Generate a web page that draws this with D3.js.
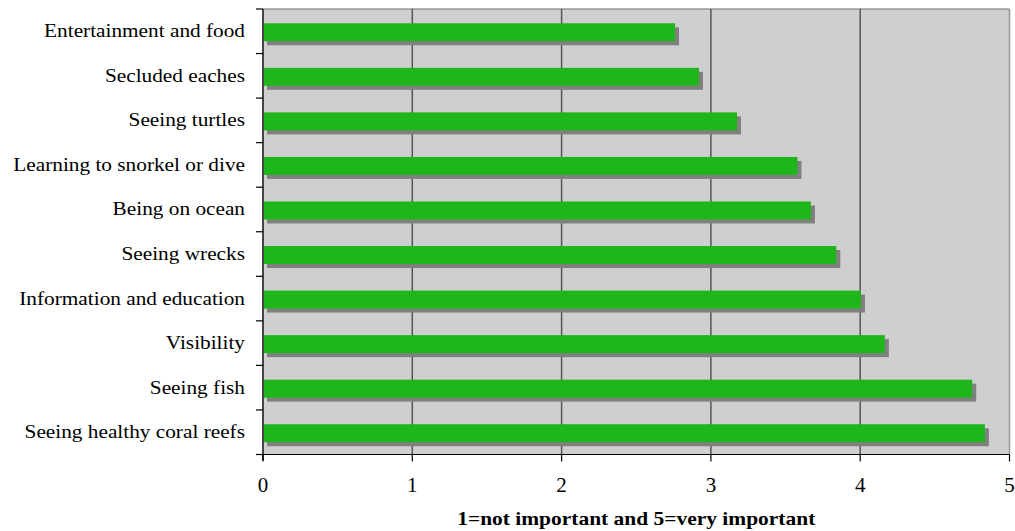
<!DOCTYPE html>
<html><head><meta charset="utf-8">
<script src="https://cdn.jsdelivr.net/npm/d3@7"></script>
<style>body{margin:0;background:#fff}svg{display:block}text{font-family:"Liberation Serif","Times New Roman",serif}</style>
</head><body><svg id="c" width="1015" height="531"></svg>
<script>
const categories = ["Entertainment and food","Secluded eaches","Seeing turtles","Learning to snorkel or dive","Being on ocean","Seeing wrecks","Information and education","Visibility","Seeing fish","Seeing healthy coral reefs"];
const values = [2.76,2.92,3.175,3.58,3.67,3.84,4.005,4.165,4.75,4.835];
const xTicks = [0,1,2,3,4,5];
const xTitle = "1=not important and 5=very important";

const svg = d3.select("#c");
const L=263,R=1009.5,T=9,B=454.5;
const x = d3.scaleLinear().domain([0,5]).range([L,R]);
const yb = d3.scaleBand().domain(categories).range([T,B]);

svg.append("rect").attr("x",L).attr("y",T).attr("width",R-L).attr("height",B-T).attr("fill","#cfcfcf");
svg.append("line").attr("x1",L).attr("x2",R).attr("y1",T).attr("y2",T).attr("stroke","#999").attr("stroke-width",1.5);
svg.append("line").attr("x1",R).attr("x2",R).attr("y1",T).attr("y2",B).attr("stroke","#999").attr("stroke-width",1.5);
svg.selectAll(".g").data(xTicks.slice(1,-1)).join("line")
  .attr("x1",d=>x(d)).attr("x2",d=>x(d)).attr("y1",T).attr("y2",B).attr("stroke","#555").attr("stroke-width",1.5);

const bh = 18;
const by = d=> yb(d)+yb.bandwidth()/2 - bh/2 + 1;
svg.selectAll(".s").data(categories).join("rect")
  .attr("x",x(0)+4).attr("y",d=>by(d)+4).attr("width",(d,i)=>x(values[i])-x(0)).attr("height",bh).attr("fill","#808080");
svg.selectAll(".b").data(categories).join("rect")
  .attr("x",x(0)).attr("y",d=>by(d)).attr("width",(d,i)=>x(values[i])-x(0)).attr("height",bh).attr("fill","#1eb61a");

svg.append("line").attr("x1",L).attr("x2",L).attr("y1",T).attr("y2",B+6).attr("stroke","#444").attr("stroke-width",2);
const bounds = categories.map(c=>yb(c)).concat([B]);
svg.selectAll(".yt").data(bounds).join("line")
  .attr("x1",256).attr("x2",L).attr("y1",d=>d).attr("y2",d=>d).attr("stroke","#000").attr("stroke-width",1.2);

function stretch(sel, k){
  sel.each(function(){ const w=this.getComputedTextLength(); d3.select(this).attr("textLength",w*k).attr("lengthAdjust","spacingAndGlyphs"); });
}
svg.selectAll(".yl").data(categories).join("text")
  .attr("x",245).attr("y",d=>yb(d)+yb.bandwidth()/2+6).attr("text-anchor","end")
  .attr("font-size",19).attr("fill","#000").text(d=>d).call(stretch,1.12);

svg.append("line").attr("x1",256).attr("x2",R).attr("y1",B).attr("y2",B).attr("stroke","#000").attr("stroke-width",1.2);
svg.selectAll(".xt").data(xTicks).join("line")
  .attr("x1",d=>x(d)).attr("x2",d=>x(d)).attr("y1",B).attr("y2",B+7).attr("stroke","#000").attr("stroke-width",1.2);
svg.selectAll(".xl").data(xTicks).join("text")
  .attr("x",d=>x(d)).attr("y",B+37).attr("text-anchor","middle").attr("font-size",21).attr("fill","#000").text(d=>d);
svg.append("text").attr("x",(L+R)/2).attr("y",525).attr("text-anchor","middle")
  .attr("font-size",19.5).attr("font-weight","bold").attr("fill","#000").text(xTitle).call(stretch,1.1);
</script></body></html>
